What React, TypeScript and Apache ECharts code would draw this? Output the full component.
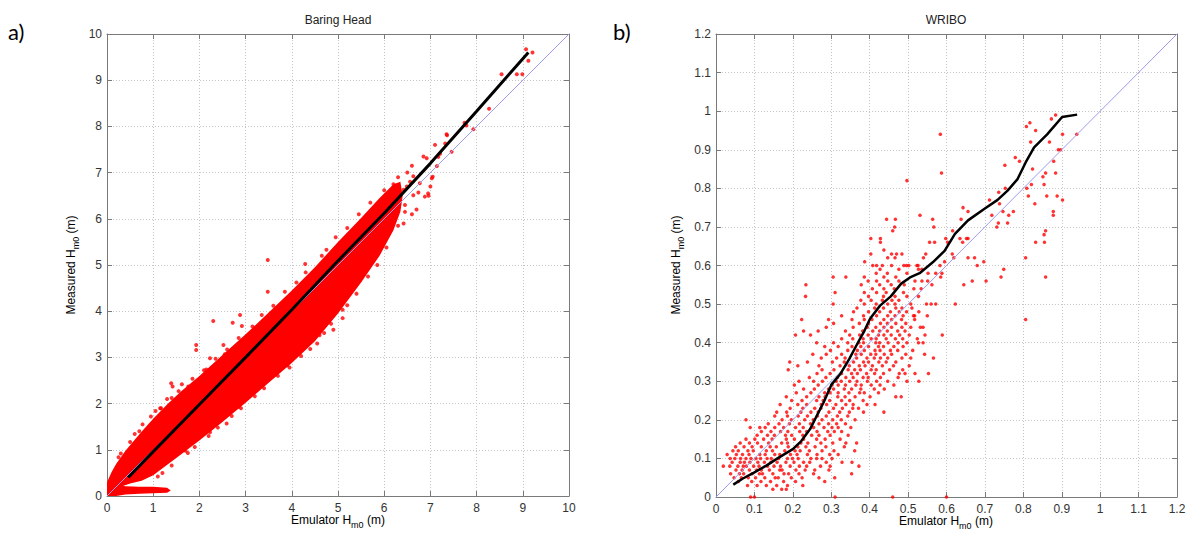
import React, { useEffect, useRef } from "react";
import * as echarts from "echarts";

// ---------- Panel a) Baring Head ----------
const BH_X_TICKS = [0, 10, 1]; // min, max, interval
const BH_Y_TICKS = [0, 10, 1];

// upper edge of the dense cloud (x ascending)
const BH_CLOUD_UPPER: number[][] = [
  [0, 0.3], [0.1, 0.52], [0.2, 0.7], [0.4, 0.98], [0.6, 1.22], [0.8, 1.45], [1.0, 1.67], [1.3, 1.98],
  [1.6, 2.26], [2.0, 2.6], [2.5, 3.05], [3.0, 3.5], [3.5, 3.97], [4.0, 4.45], [4.5, 4.95], [5.0, 5.5],
  [5.5, 6.02], [5.9, 6.45], [6.2, 6.75], [6.35, 6.8],
];
// lower edge of the dense cloud (x descending)
const BH_CLOUD_LOWER: number[][] = [
  [6.4, 6.5], [6.35, 6.15], [6.2, 5.75], [5.9, 5.2], [5.5, 4.62], [5.0, 3.95], [4.5, 3.35], [4.0, 2.88],
  [3.5, 2.45], [3.0, 2.02], [2.5, 1.6], [2.0, 1.2], [1.5, 0.82], [1.0, 0.45], [0.75, 0.33], [0.5, 0.27],
  [0.3, 0.2], [0.15, 0.1], [0, 0.05],
];
// low blob near the x axis
const BH_BLOB: number[][] = [
  [0, 0], [0, 0.28], [0.15, 0.25], [0.4, 0.21], [0.7, 0.2], [1.0, 0.2], [1.3, 0.18], [1.38, 0.12],
  [1.3, 0.07], [1.0, 0.06], [0.7, 0.05], [0.4, 0.03], [0.2, 0],
];
// individual points around / outside the cloud
const BH_POINTS: number[][] = [
  [0.25, 0.84], [0.5, 1.17], [0.7, 1.4], [0.95, 1.72], [1.15, 1.9], [1.4, 2.12], [1.55, 2.27], [1.85, 2.54],
  [2.15, 2.74], [2.35, 2.97], [2.6, 3.17], [2.85, 3.42], [3.15, 3.67], [3.35, 3.92], [3.6, 4.12], [3.85, 4.42],
  [4.1, 4.62], [4.3, 4.84], [4.65, 5.2], [4.95, 5.6], [5.2, 5.8], [5.45, 6.1], [5.7, 6.35], [6.0, 6.62],
  [0.3, 0.92], [0.6, 1.34], [1.05, 1.84], [1.3, 2.1], [1.62, 2.42], [2.1, 2.72], [2.55, 3.07], [3.1, 3.52],
  [1.2, 0.5], [1.4, 0.66], [1.75, 0.93], [1.9, 1.06], [2.2, 1.3], [2.4, 1.48], [2.7, 1.73], [2.9, 1.9],
  [3.2, 2.16], [3.4, 2.33], [3.7, 2.6], [3.95, 2.78], [4.2, 3.03], [4.4, 3.18], [4.7, 3.53], [4.85, 3.73],
  [5.2, 4.13], [5.4, 4.38], [5.65, 4.75], [5.85, 5.0], [6.05, 5.38], [6.3, 5.85], [6.45, 6.15],
  [1.1, 0.42], [1.7, 0.98], [2.85, 1.93], [3.9, 2.83], [4.6, 3.48], [5.1, 4.03],
  [3.48, 5.11], [3.48, 4.42], [2.3, 3.79], [2.72, 3.75], [2.88, 3.92], [2.92, 3.68], [1.93, 3.27], [1.93, 3.16],
  [2.52, 3.27], [2.23, 2.98], [1.39, 2.44], [1.42, 2.37], [1.76, 2.37], [1.17, 1.9], [0.77, 1.55], [0.57, 1.07],
  [2.59, 1.57], [2.23, 1.38], [1.69, 1.29], [3.89, 3.16], [4.29, 5.02], [4.75, 5.33], [5.04, 5.43],
  [4.55, 3.3], [5.1, 3.85], [4.9, 3.6],
  [6.85, 7.35], [7.1, 7.6], [7.36, 7.81], [7.03, 6.88], [6.96, 6.5], [6.42, 5.9], [9.07, 9.67], [9.21, 9.6],
  [9.12, 9.42], [8.54, 9.13], [8.87, 9.13], [8.99, 9.13], [8.27, 8.38], [7.74, 8.08], [7.78, 8.02], [7.93, 7.94],
  [7.46, 7.45], [7.35, 7.83], [7.32, 7.63], [7.21, 7.41], [7.17, 7.34], [6.92, 7.31], [7.14, 7.14],
  [7.05, 6.91], [7.0, 6.7], [6.95, 6.55], [6.63, 6.92], [6.56, 6.8], [6.49, 6.7], [6.42, 6.63], [6.77, 6.77],
  [6.74, 6.57], [6.63, 6.51], [6.88, 6.48], [6.3, 6.9], [6.5, 7.0], [6.6, 7.15], [6.2, 6.75], [6.45, 6.3],
  [6.6, 6.1], [6.7, 6.2],
];
const BH_FIT: number[][] = [
  [0.46, 0.4], [1, 0.96], [2, 1.98], [3, 3.0], [4, 4.03], [5, 5.09], [6, 6.12], [7, 7.2], [8, 8.33], [9.12, 9.6],
];
const BH_DIAG: number[][] = [[0, 0], [10, 10]];

// ---------- Panel b) WRIBO ----------
const WR_X_TICKS = [0, 1.2, 0.1];
const WR_Y_TICKS = [0, 1.2, 0.1];

// measured values are in 0.01 m steps: [measured, [emulator values ...]]
const WR_ROWS: [number, number[]][] = [
  [0.0, [0.09, 0.1, 0.31, 0.46, 0.6]],
  [0.02, [0.148, 0.171, 0.183]],
  [0.03, [0.082, 0.107, 0.131, 0.158, 0.186, 0.226]],
  [0.04, [0.058, 0.093, 0.117, 0.142, 0.176, 0.207, 0.283]],
  [0.05, [0.047, 0.066, 0.084, 0.103, 0.127, 0.154, 0.162, 0.196, 0.224, 0.268, 0.309]],
  [0.06, [0.038, 0.061, 0.072, 0.094, 0.113, 0.121, 0.148, 0.177, 0.189, 0.216, 0.254, 0.353]],
  [0.07, [0.052, 0.068, 0.087, 0.106, 0.118, 0.139, 0.166, 0.172, 0.208, 0.232, 0.257, 0.294]],
  [0.08, [0.019, 0.036, 0.057, 0.071, 0.079, 0.098, 0.112, 0.134, 0.151, 0.168, 0.193, 0.217, 0.236, 0.272, 0.297, 0.372]],
  [0.09, [0.042, 0.063, 0.074, 0.088, 0.109, 0.126, 0.143, 0.159, 0.182, 0.203, 0.228, 0.244, 0.287, 0.328, 0.354]],
  [0.1, [0.037, 0.049, 0.064, 0.078, 0.091, 0.104, 0.116, 0.133, 0.144, 0.163, 0.186, 0.199, 0.214, 0.247, 0.262, 0.276, 0.302]],
  [0.11, [0.029, 0.053, 0.069, 0.086, 0.114, 0.128, 0.153, 0.166, 0.194, 0.211, 0.238, 0.263, 0.296, 0.318]],
  [0.12, [0.044, 0.058, 0.083, 0.097, 0.131, 0.147, 0.179, 0.206, 0.219, 0.243, 0.276, 0.307, 0.361]],
  [0.13, [0.051, 0.073, 0.094, 0.118, 0.141, 0.157, 0.188, 0.213, 0.234, 0.258, 0.286, 0.334]],
  [0.14, [0.063, 0.087, 0.108, 0.137, 0.171, 0.186, 0.221, 0.239, 0.273, 0.304, 0.338, 0.366]],
  [0.15, [0.078, 0.101, 0.124, 0.146, 0.183, 0.204, 0.228, 0.262, 0.284, 0.323]],
  [0.16, [0.107, 0.134, 0.152, 0.181, 0.197, 0.226, 0.249, 0.268, 0.297, 0.344]],
  [0.17, [0.118, 0.143, 0.168, 0.187, 0.218, 0.236, 0.263, 0.291, 0.308, 0.327]],
  [0.18, [0.089, 0.114, 0.128, 0.153, 0.176, 0.207, 0.227, 0.254, 0.281, 0.302, 0.318, 0.351]],
  [0.19, [0.136, 0.164, 0.191, 0.217, 0.246, 0.268, 0.293, 0.314, 0.337]],
  [0.2, [0.078, 0.172, 0.196, 0.231, 0.253, 0.276, 0.304, 0.326, 0.362]],
  [0.21, [0.153, 0.186, 0.214, 0.238, 0.264, 0.287, 0.316, 0.343]],
  [0.22, [0.158, 0.184, 0.221, 0.247, 0.266, 0.294, 0.322, 0.347, 0.384, 0.437]],
  [0.23, [0.193, 0.226, 0.257, 0.273, 0.306, 0.329, 0.356, 0.371]],
  [0.24, [0.167, 0.213, 0.236, 0.274, 0.288, 0.312, 0.338, 0.357, 0.393, 0.414]],
  [0.25, [0.197, 0.224, 0.262, 0.279, 0.296, 0.327, 0.348, 0.383]],
  [0.26, [0.183, 0.236, 0.268, 0.284, 0.317, 0.336, 0.362, 0.401, 0.468, 0.482]],
  [0.27, [0.209, 0.247, 0.283, 0.297, 0.318, 0.346, 0.374, 0.386, 0.423]],
  [0.28, [0.228, 0.256, 0.293, 0.306, 0.334, 0.353, 0.377, 0.412, 0.438]],
  [0.29, [0.204, 0.266, 0.302, 0.318, 0.337, 0.364, 0.378, 0.404, 0.427, 0.463]],
  [0.3, [0.216, 0.254, 0.277, 0.313, 0.326, 0.348, 0.367, 0.394, 0.418, 0.447, 0.497, 0.528]],
  [0.31, [0.243, 0.286, 0.316, 0.338, 0.357, 0.383, 0.396, 0.428, 0.474]],
  [0.32, [0.263, 0.297, 0.327, 0.353, 0.368, 0.392, 0.413, 0.436, 0.477, 0.492, 0.518, 0.553]],
  [0.33, [0.188, 0.276, 0.307, 0.344, 0.361, 0.376, 0.404, 0.417, 0.452, 0.486]],
  [0.34, [0.213, 0.268, 0.323, 0.347, 0.373, 0.388, 0.407, 0.433, 0.462, 0.503]],
  [0.35, [0.192, 0.238, 0.303, 0.334, 0.358, 0.384, 0.397, 0.424, 0.443, 0.468]],
  [0.36, [0.274, 0.314, 0.336, 0.366, 0.393, 0.412, 0.428, 0.447, 0.484, 0.507, 0.566]],
  [0.37, [0.252, 0.287, 0.327, 0.364, 0.378, 0.403, 0.416, 0.438, 0.457, 0.494, 0.543]],
  [0.38, [0.298, 0.343, 0.368, 0.386, 0.414, 0.427, 0.454, 0.473, 0.512]],
  [0.39, [0.283, 0.318, 0.354, 0.377, 0.397, 0.423, 0.436, 0.463, 0.487]],
  [0.4, [0.262, 0.306, 0.343, 0.372, 0.384, 0.416, 0.426, 0.448, 0.474, 0.497, 0.527, 0.539]],
  [0.41, [0.327, 0.356, 0.383, 0.404, 0.417, 0.443, 0.467, 0.486, 0.524]],
  [0.42, [0.207, 0.246, 0.348, 0.374, 0.396, 0.423, 0.437, 0.456, 0.478, 0.503, 0.544, 0.589]],
  [0.43, [0.228, 0.266, 0.337, 0.382, 0.408, 0.426, 0.446, 0.473, 0.492]],
  [0.44, [0.287, 0.357, 0.394, 0.416, 0.437, 0.457, 0.484, 0.507, 0.532, 0.539]],
  [0.45, [0.306, 0.373, 0.397, 0.428, 0.446, 0.468, 0.494]],
  [0.46, [0.223, 0.293, 0.354, 0.386, 0.406, 0.437, 0.457, 0.483, 0.517, 0.806]],
  [0.47, [0.327, 0.384, 0.418, 0.447, 0.466, 0.487, 0.514, 0.517, 0.55]],
  [0.48, [0.358, 0.397, 0.426, 0.454, 0.477, 0.496, 0.528]],
  [0.49, [0.367, 0.413, 0.436, 0.468, 0.484, 0.51]],
  [0.5, [0.305, 0.386, 0.417, 0.447, 0.466, 0.507, 0.548, 0.56, 0.572, 0.623]],
  [0.51, [0.377, 0.404, 0.433, 0.458, 0.476]],
  [0.52, [0.233, 0.397, 0.436, 0.466, 0.497, 0.527]],
  [0.53, [0.31, 0.386, 0.418, 0.443, 0.488]],
  [0.54, [0.407, 0.437, 0.464, 0.515, 0.534]],
  [0.55, [0.234, 0.378, 0.426, 0.456, 0.49, 0.562, 0.645]],
  [0.56, [0.396, 0.418, 0.447, 0.476, 0.518, 0.536, 0.551, 0.667, 0.703]],
  [0.57, [0.305, 0.338, 0.386, 0.437, 0.468, 0.585, 0.742, 0.858]],
  [0.58, [0.417, 0.446, 0.497, 0.552, 0.572, 0.588]],
  [0.59, [0.427, 0.476, 0.527, 0.536, 0.749]],
  [0.6, [0.408, 0.418, 0.433, 0.457, 0.489, 0.496, 0.502, 0.523, 0.526, 0.583, 0.68]],
  [0.61, [0.387, 0.595, 0.697]],
  [0.62, [0.447, 0.466, 0.54, 0.619, 0.656, 0.673, 0.806]],
  [0.63, [0.403, 0.457, 0.47, 0.484, 0.546, 0.615]],
  [0.64, [0.437]],
  [0.66, [0.428, 0.556, 0.569, 0.603, 0.642, 0.832, 0.855]],
  [0.67, [0.403, 0.428, 0.598, 0.635, 0.652, 0.656]],
  [0.68, [0.854]],
  [0.69, [0.46, 0.616, 0.858]],
  [0.7, [0.465, 0.567, 0.731]],
  [0.71, [0.735, 0.759]],
  [0.72, [0.444, 0.467, 0.564, 0.638]],
  [0.73, [0.531, 0.718, 0.762, 0.878]],
  [0.74, [0.656, 0.747, 0.774, 0.878]],
  [0.75, [0.643]],
  [0.76, [0.738, 0.83]],
  [0.77, [0.712, 0.902]],
  [0.78, [0.813, 0.861, 0.888]],
  [0.79, [0.736]],
  [0.8, [0.753, 0.809]],
  [0.81, [0.821, 0.854]],
  [0.82, [0.497]],
  [0.83, [0.851]],
  [0.84, [0.587, 0.858, 0.884]],
  [0.85, [0.824]],
  [0.86, [0.752]],
  [0.87, [0.79, 0.879]],
  [0.88, [0.779]],
  [0.9, [0.891, 0.897]],
  [0.92, [0.819, 0.868]],
  [0.94, [0.584, 0.902, 0.939]],
  [0.95, [0.832]],
  [0.96, [0.808]],
  [0.97, [0.817]],
  [0.98, [0.873]],
  [0.99, [0.884]],
];
const WR_FIT: number[][] = [
  [0.045, 0.032], [0.07, 0.048], [0.1, 0.064], [0.132, 0.082], [0.16, 0.1], [0.2, 0.124], [0.222, 0.145],
  [0.245, 0.176], [0.262, 0.21], [0.28, 0.245], [0.301, 0.292], [0.323, 0.318], [0.347, 0.358], [0.372, 0.405],
  [0.386, 0.43], [0.401, 0.462], [0.427, 0.496], [0.455, 0.52], [0.482, 0.553], [0.505, 0.569], [0.53, 0.58],
  [0.565, 0.609], [0.595, 0.638], [0.622, 0.682], [0.656, 0.717], [0.699, 0.747], [0.733, 0.77], [0.759, 0.794],
  [0.785, 0.824], [0.806, 0.867], [0.828, 0.906], [0.862, 0.94], [0.901, 0.985], [0.94, 0.991],
];
const WR_DIAG: number[][] = [[0, 0], [1.2, 1.2]];

const TITLES = ["Baring Head", "WRIBO"];
const PANEL_LABELS = ["a)", "b)"];

const RED = "#ff0000";
const BLUE = "#9c9cf0";
const FONT = "Liberation Sans, Arial, sans-serif";
const FRAME = "#7a7a7a";

function axisPair(gridIndex: number, ticks: number[], dir: "x" | "y") {
  const [min, max, interval] = ticks;
  const base = {
    type: "value",
    gridIndex,
    min,
    max,
    interval,
    axisLine: { show: true, onZero: false, lineStyle: { color: FRAME, width: 1 } },
    axisTick: { show: true, inside: true, length: 5, lineStyle: { color: FRAME } },
  };
  const main = {
    ...base,
    position: dir === "x" ? "bottom" : "left",
    axisLabel: { color: "#333", fontSize: 12, fontFamily: FONT, margin: dir === "x" ? 6 : 5 },
    splitLine: { show: true, lineStyle: { color: "#c4c4c4", width: 1, type: [1, 2] } },
  };
  const opp = {
    ...base,
    position: dir === "x" ? "top" : "right",
    axisLabel: { show: false },
    splitLine: { show: false },
  };
  return [main, opp];
}

export default function App() {
  const ref = useRef<HTMLDivElement>(null);
  useEffect(() => {
    if (!ref.current) return;
    const chart = echarts.init(ref.current, null, { renderer: "svg" });

    const wrPoints: number[][] = [];
    WR_ROWS.forEach(([y, xs]) => xs.forEach((x) => wrPoints.push([x, y])));
    const cloud = [...BH_CLOUD_UPPER, ...BH_CLOUD_LOWER];

    const grids = [
      { left: 107, top: 34, width: 462, height: 462 },
      { left: 716, top: 34, width: 461, height: 463 },
    ];

    const sub = { fontSize: 9, fontFamily: FONT, color: "#222", padding: [9, 0, 0, 0] };
    const main = { fontSize: 12, fontFamily: FONT, color: "#222" };

    const option: any = {
      animation: false,
      backgroundColor: "#ffffff",
      grid: grids.map((g) => ({ ...g, containLabel: false })),
      xAxis: [...axisPair(0, BH_X_TICKS, "x"), ...axisPair(1, WR_X_TICKS, "x")],
      yAxis: [...axisPair(0, BH_Y_TICKS, "y"), ...axisPair(1, WR_Y_TICKS, "y")],
      series: [
        {
          type: "custom",
          xAxisIndex: 0,
          yAxisIndex: 0,
          clip: true,
          data: [[0, 0]],
          renderItem: (_p: any, api: any) => ({
            type: "group",
            children: [
              { type: "polygon", shape: { points: cloud.map((p) => api.coord(p)) }, style: { fill: RED } },
              { type: "polygon", shape: { points: BH_BLOB.map((p) => api.coord(p)) }, style: { fill: RED } },
            ],
          }),
        },
        {
          type: "scatter",
          xAxisIndex: 0,
          yAxisIndex: 0,
          data: BH_POINTS,
          symbolSize: 4,
          itemStyle: { color: RED },
        },
        {
          type: "line",
          xAxisIndex: 0,
          yAxisIndex: 0,
          data: BH_DIAG,
          symbol: "none",
          lineStyle: { color: BLUE, width: 1 },
        },
        {
          type: "line",
          xAxisIndex: 0,
          yAxisIndex: 0,
          data: BH_FIT,
          symbol: "none",
          lineStyle: { color: "#000", width: 3 },
        },
        {
          type: "scatter",
          xAxisIndex: 2,
          yAxisIndex: 2,
          data: wrPoints,
          symbolSize: 3.5,
          itemStyle: { color: RED },
        },
        {
          type: "line",
          xAxisIndex: 2,
          yAxisIndex: 2,
          data: WR_DIAG,
          symbol: "none",
          lineStyle: { color: BLUE, width: 1 },
        },
        {
          type: "line",
          xAxisIndex: 2,
          yAxisIndex: 2,
          data: WR_FIT,
          symbol: "none",
          lineStyle: { color: "#000", width: 2.5 },
        },
      ],
      graphic: [
        { type: "text", left: 8, top: 20, style: { text: PANEL_LABELS[0], fontSize: 22, fontFamily: "Lato, sans-serif", fill: "#000" } },
        { type: "text", left: 613, top: 20, style: { text: PANEL_LABELS[1], fontSize: 22, fontFamily: "Lato, sans-serif", fill: "#000" } },
        { type: "text", x: 338, y: 20, style: { text: TITLES[0], fontSize: 12, fontFamily: FONT, fill: "#222", align: "center", verticalAlign: "middle" } },
        { type: "text", x: 946, y: 20, style: { text: TITLES[1], fontSize: 12, fontFamily: FONT, fill: "#222", align: "center", verticalAlign: "middle" } },
        {
          type: "text", x: 338, y: 520,
          style: { text: "{m|Emulator H}{s|m0}{m| (m)}", rich: { m: main, s: sub }, align: "center", verticalAlign: "middle" },
        },
        {
          type: "text", x: 946, y: 521,
          style: { text: "{m|Emulator H}{s|m0}{m| (m)}", rich: { m: main, s: sub }, align: "center", verticalAlign: "middle" },
        },
        {
          type: "text", x: 71, y: 265, rotation: Math.PI / 2,
          style: { text: "{m|Measured H}{s|m0}{m| (m)}", rich: { m: main, s: sub }, align: "center", verticalAlign: "middle" },
        },
        {
          type: "text", x: 676, y: 265, rotation: Math.PI / 2,
          style: { text: "{m|Measured H}{s|m0}{m| (m)}", rich: { m: main, s: sub }, align: "center", verticalAlign: "middle" },
        },
      ],
    };
    chart.setOption(option);
    return () => chart.dispose();
  }, []);
  return <div ref={ref} style={{ position: "absolute", left: 0, top: 0, width: 1195, height: 536 }} />;
}
